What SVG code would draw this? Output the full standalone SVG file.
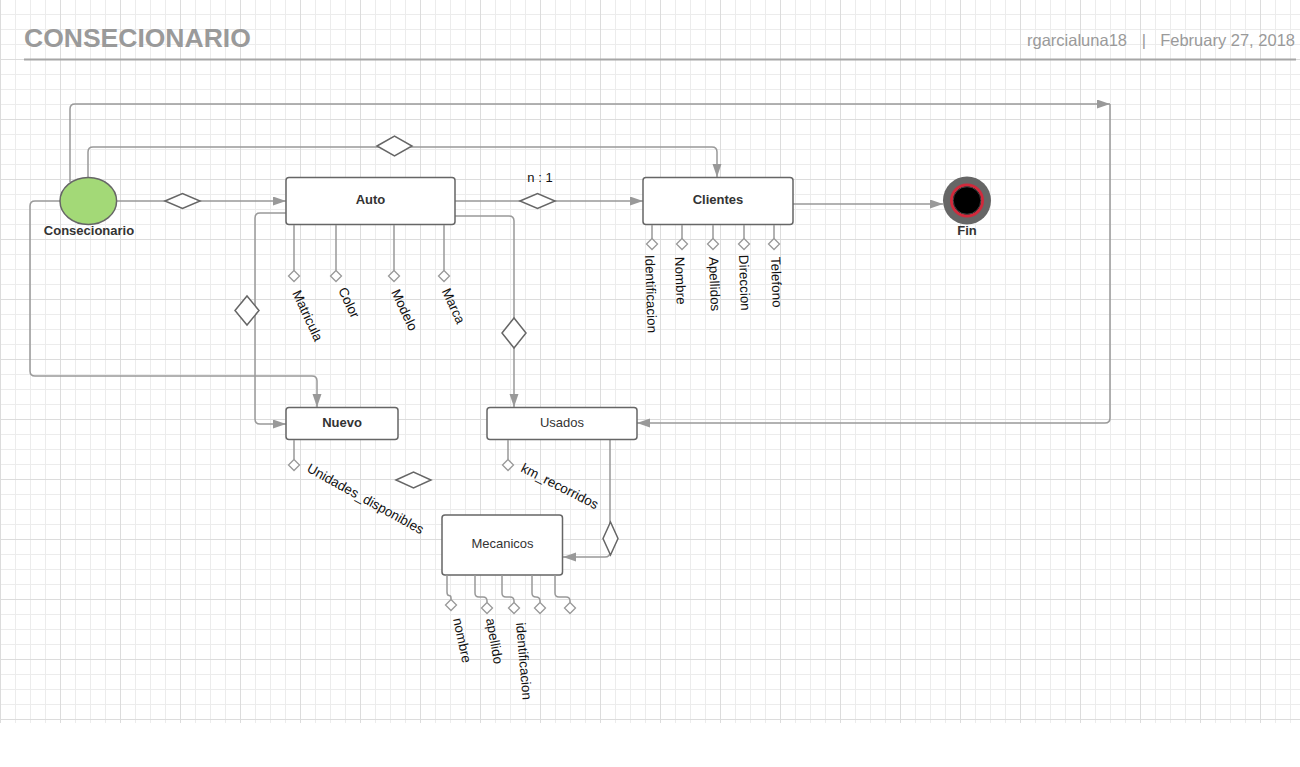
<svg xmlns="http://www.w3.org/2000/svg" width="1300" height="767" viewBox="0 0 1300 767">
<defs>
<pattern id="gMinor" x="0" y="-1" width="15" height="15" patternUnits="userSpaceOnUse"><rect x="0" y="0" width="1" height="15" fill="#ececec"/><rect x="0" y="0" width="15" height="1" fill="#ececec"/></pattern>
<pattern id="gMajor" x="0" y="-1" width="60" height="60" patternUnits="userSpaceOnUse"><rect x="0" y="0" width="1" height="60" fill="#dcdcdc"/><rect x="0" y="0" width="60" height="1" fill="#dcdcdc"/></pattern>
<marker id="arr" markerUnits="userSpaceOnUse" markerWidth="14" markerHeight="10" refX="13" refY="4.5" orient="auto"><path d="M0,0 L13,4.5 L0,9 z" fill="#999"/></marker>
<style>
.ent{fill:#fff;stroke:#666;stroke-width:1.5}
.con{fill:none;stroke:#999;stroke-width:1.5}
.arw{marker-end:url(#arr)}
.rel{fill:#fff;stroke:#666;stroke-width:1.5}
.ad{fill:#fff;stroke:#999;stroke-width:1.3}
.lb{font-family:"Liberation Sans",Arial,sans-serif;font-size:13px;font-weight:bold;fill:#333;text-anchor:middle}
.ln{font-family:"Liberation Sans",Arial,sans-serif;font-size:13px;fill:#333;text-anchor:middle}
.at{font-family:"Liberation Sans",Arial,sans-serif;font-size:13.4px;fill:#111}
.hd{font-family:"Liberation Sans",Arial,sans-serif;fill:#9a9a9a}
</style>
</defs>
<rect x="0" y="0" width="1300" height="767" fill="#fff"/>
<rect x="0" y="0" width="1300" height="723" fill="url(#gMinor)"/>
<rect x="0" y="0" width="1300" height="723" fill="url(#gMajor)"/>

<g id="header">
<text class="hd" x="24" y="47" font-size="26.5" font-weight="bold">CONSECIONARIO</text>
<text class="hd" x="1027" y="46" font-size="16.5">rgarcialuna18</text>
<text class="hd" x="1144" y="46" font-size="16.5" text-anchor="middle">|</text>
<text class="hd" x="1295" y="46" font-size="16.5" text-anchor="end">February 27, 2018</text>
<line x1="24" y1="59.5" x2="1296" y2="59.5" stroke="#a6a6a6" stroke-width="2"/>
</g>

<g id="connectors">
<path class="con arw" d="M70,182 V109 Q70,104 75,104 H1110"/>
<path class="con arw" d="M1110,104 V418 Q1110,423 1105,423 H637"/>
<path class="con arw" d="M88,177 V152 Q88,147 93,147 H712 Q717,147 717,152 V177"/>
<path class="con arw" d="M116,201 H286"/>
<path class="con arw" d="M455,201 H643"/>
<path class="con arw" d="M455,216 H509 Q514,216 514,221 V407"/>
<path class="con arw" d="M286,213 H260 Q255,213 255,218 V419 Q255,424 260,424 H286"/>
<path class="con arw" d="M60,201 H35 Q30,201 30,206 V371 Q30,376 35,376 H312 Q317,376 317,381 V407"/>
<path class="con arw" d="M793,204 H943"/>
<path class="con arw" d="M610,440 V552 Q610,557 605,557 H563"/>
<polygon class="rel" points="377,146 394.5,136 412,146 394.5,156"/>
<polygon class="rel" points="165,201 182.5,193.5 200,201 182.5,208.5"/>
<polygon class="rel" points="520,201 537.5,193.5 555,201 537.5,208.5"/>
<polygon class="rel" points="502,333 514,318 526,333 514,348"/>
<polygon class="rel" points="235,310.5 247,296 259,310.5 247,325"/>
<polygon class="rel" points="603,538.5 610.5,522 618,538.5 610.5,555"/>
<polygon class="rel" points="396,480 413.5,472 431,480 413.5,488"/>
<text x="540" y="182" class="ln" style="fill:#111">n : 1</text>
</g>

<g id="consecionario">
<ellipse cx="88.3" cy="201" rx="28.3" ry="23.5" fill="#a3d977" stroke="#666" stroke-width="1.5"/>
<text class="lb" x="89" y="235">Consecionario</text>
</g>

<g id="auto">
<rect class="ent" x="286" y="177.5" width="169" height="47" rx="3"/>
<text class="lb" x="370.5" y="204">Auto</text>
<path class="con" d="M294,225 V270.5 M336,225 V270.5 M394,225 V270.5 M444,225 V270.5"/>
<polygon class="ad" points="294,270.5 299.5,276 294,281.5 288.5,276"/>
<polygon class="ad" points="336,270.5 341.5,276 336,281.5 330.5,276"/>
<polygon class="ad" points="394,270.5 399.5,276 394,281.5 388.5,276"/>
<polygon class="ad" points="444,270.5 449.5,276 444,281.5 438.5,276"/>
<text class="at" transform="translate(292,293) rotate(65)">Matricula</text>
<text class="at" transform="translate(338,290) rotate(65)">Color</text>
<text class="at" transform="translate(391,292) rotate(65)">Modelo</text>
<text class="at" transform="translate(441.5,291) rotate(65)">Marca</text>
</g>

<g id="clientes">
<rect class="ent" x="643" y="177.5" width="150" height="47" rx="3"/>
<text class="lb" x="718" y="204">Clientes</text>
<path class="con" d="M652,225 V238.5 M682,225 V238.5 M713,225 V238.5 M744,225 V238.5 M774,225 V238.5"/>
<polygon class="ad" points="652,238.5 657.5,244 652,249.5 646.5,244"/>
<polygon class="ad" points="682,238.5 687.5,244 682,249.5 676.5,244"/>
<polygon class="ad" points="713,238.5 718.5,244 713,249.5 707.5,244"/>
<polygon class="ad" points="744,238.5 749.5,244 744,249.5 738.5,244"/>
<polygon class="ad" points="774,238.5 779.5,244 774,249.5 768.5,244"/>
<text class="at" transform="translate(645,255) rotate(88)">Identificacion</text>
<text class="at" transform="translate(675,257) rotate(88)">Nombre</text>
<text class="at" transform="translate(709,257) rotate(88)">Apellidos</text>
<text class="at" transform="translate(739,255) rotate(88)">Direccion</text>
<text class="at" transform="translate(771,257) rotate(88)">Telefono</text>
</g>

<g id="fin">
<circle cx="967" cy="200.5" r="24" fill="#666"/>
<circle cx="967" cy="200.5" r="15.5" fill="#000" stroke="#d02a3c" stroke-width="3"/>
<circle cx="967" cy="200.5" r="13.8" fill="#000" stroke="#555" stroke-width="0.8"/>
<text class="lb" x="967" y="235">Fin</text>
</g>

<g id="nuevo">
<rect class="ent" x="286" y="407.5" width="112" height="32" rx="3"/>
<text class="lb" x="342" y="427">Nuevo</text>
<path class="con" d="M294,440 V459.5"/>
<polygon class="ad" points="294,459.5 299.5,465 294,470.5 288.5,465"/>
<text class="at" transform="translate(306,471) rotate(29)">Unidades_disponibles</text>
</g>

<g id="usados">
<rect class="ent" x="487" y="407.5" width="150" height="32" rx="3"/>
<text class="ln" x="562" y="427">Usados</text>
<path class="con" d="M508,440 V459.5"/>
<polygon class="ad" points="508,459.5 513.5,465 508,470.5 502.5,465"/>
<text class="at" transform="translate(520,471) rotate(27)">km_recorridos</text>
</g>

<g id="mecanicos">
<rect class="ent" x="442" y="515" width="120.5" height="60" rx="3"/>
<text class="ln" x="502.5" y="548">Mecanicos</text>
<path class="con" d="M447,575 V592 Q447,595.5 449,595.5 Q451,595.5 451,598 V599.5"/>
<path class="con" d="M475,575 V593 Q475,597 479,597 H483 Q487,597 487,601 V602.5"/>
<path class="con" d="M502,575 V593 Q502,597 506,597 H510 Q514,597 514,601 V602.5"/>
<path class="con" d="M532,575 V593 Q532,597 536,597 Q540,597 540,601 V602.5"/>
<path class="con" d="M555,575 V593 Q555,597 559,597 H566 Q570,597 570,601 V602.5"/>
<polygon class="ad" points="451,599.5 456.5,605 451,610.5 445.5,605"/>
<polygon class="ad" points="487,602.5 492.5,608 487,613.5 481.5,608"/>
<polygon class="ad" points="514,602.5 519.5,608 514,613.5 508.5,608"/>
<polygon class="ad" points="540,602.5 545.5,608 540,613.5 534.5,608"/>
<polygon class="ad" points="570,602.5 575.5,608 570,613.5 564.5,608"/>
<text class="at" transform="translate(453,619) rotate(78)">nombre</text>
<text class="at" transform="translate(486,619) rotate(80)">apellido</text>
<text class="at" transform="translate(516,623) rotate(85)">identificacion</text>
</g>
</svg>
